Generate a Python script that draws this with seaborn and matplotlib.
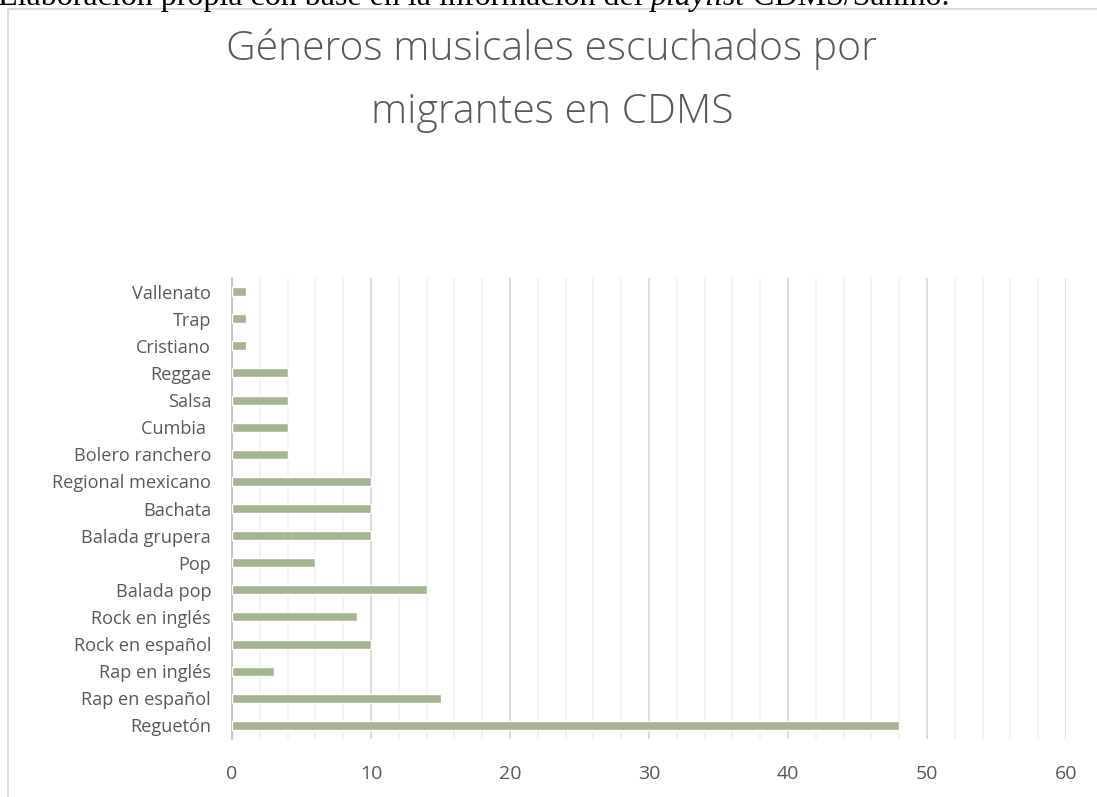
import matplotlib
matplotlib.use("Agg")
import matplotlib.pyplot as plt
import seaborn as sns
import pandas as pd
from matplotlib.patches import Rectangle
from matplotlib.ticker import MultipleLocator, FixedLocator

categories = ["Vallenato", "Trap", "Cristiano", "Reggae", "Salsa", "Cumbia ",
              "Bolero ranchero", "Regional mexicano", "Bachata", "Balada grupera",
              "Pop", "Balada pop", "Rock en inglés", "Rock en español",
              "Rap en inglés", "Rap en español", "Reguetón"]
values = [1, 1, 1, 4, 4, 4, 4, 10, 10, 10, 6, 14, 9, 10, 3, 15, 48]
x_ticks = [0, 10, 20, 30, 40, 50, 60]
title = "Géneros musicales escuchados por\nmigrantes en CDMS"
source_parts = ["Elaboración propia con base en la información del ", "playlist", " CDMS/Sahino."]

sns.set_theme(style="white")
plt.rcParams["font.family"] = ["Open Sans", "DejaVu Sans"]

W, H = 1097, 797
fig = plt.figure(figsize=(W / 100, H / 100), dpi=100)
ax = fig.add_axes([232 / W, 1 - 739 / H, (1066 - 232) / W, (739 - 278) / H])

df = pd.DataFrame({"cat": categories, "val": values})
sns.barplot(data=df, x="val", y="cat", orient="h", color="#A5B592",
            saturation=1, width=0.33, ax=ax, zorder=3)

ax.set_xlim(0, 60)
ax.set_ylim(len(categories) - 0.5, -0.5)
ax.xaxis.set_major_locator(FixedLocator(x_ticks))
ax.xaxis.set_minor_locator(MultipleLocator(2))
ax.grid(True, which="major", axis="x", color="#D9D9D9", linewidth=1.3, zorder=0)
ax.grid(True, which="minor", axis="x", color="#F0F0F0", linewidth=1.1, zorder=0)
ax.set_axisbelow(True)
for s in ["top", "right", "bottom"]:
    ax.spines[s].set_visible(False)
ax.spines["left"].set_color("#BFBFBF")
ax.spines["left"].set_linewidth(1.2)
ax.set_xlabel("")
ax.set_ylabel("")

ax.tick_params(axis="x", which="both", length=0, pad=19, labelsize=14, labelcolor="#595959")
ax.tick_params(axis="y", which="major", length=0, pad=15, labelsize=13.1, labelcolor="#595959")
ax.yaxis.set_minor_locator(FixedLocator([i - 0.5 for i in range(len(categories) + 1)]))
ax.tick_params(axis="y", which="minor", length=6, width=1.2, color="#BFBFBF", direction="out")

fig.text(552 / W, 1 - 81 / H, title, ha="center", va="center", fontsize=29.4,
         fontweight="light", color="#595959", linespacing=1.71)

# border of chart area
fig.patches.append(Rectangle((8 / W, -0.05), 1.2, 1 - 9 / H + 0.05, transform=fig.transFigure,
                             fill=False, edgecolor="#D9D9D9", linewidth=1.3, clip_on=False))

# cut-off source text at the top (as in the reference)
fig.canvas.draw()
r = fig.canvas.get_renderer()
x = -2 / W
styles = ["normal", "italic", "normal"]
for part, st in zip(source_parts, styles):
    t = fig.text(x, 1 - 5 / H, part, fontsize=23, family="Liberation Serif",
                 style=st, va="baseline", ha="left", color="black")
    bb = t.get_window_extent(renderer=r)
    x += bb.width / W

fig.savefig("out.png", dpi=100)
